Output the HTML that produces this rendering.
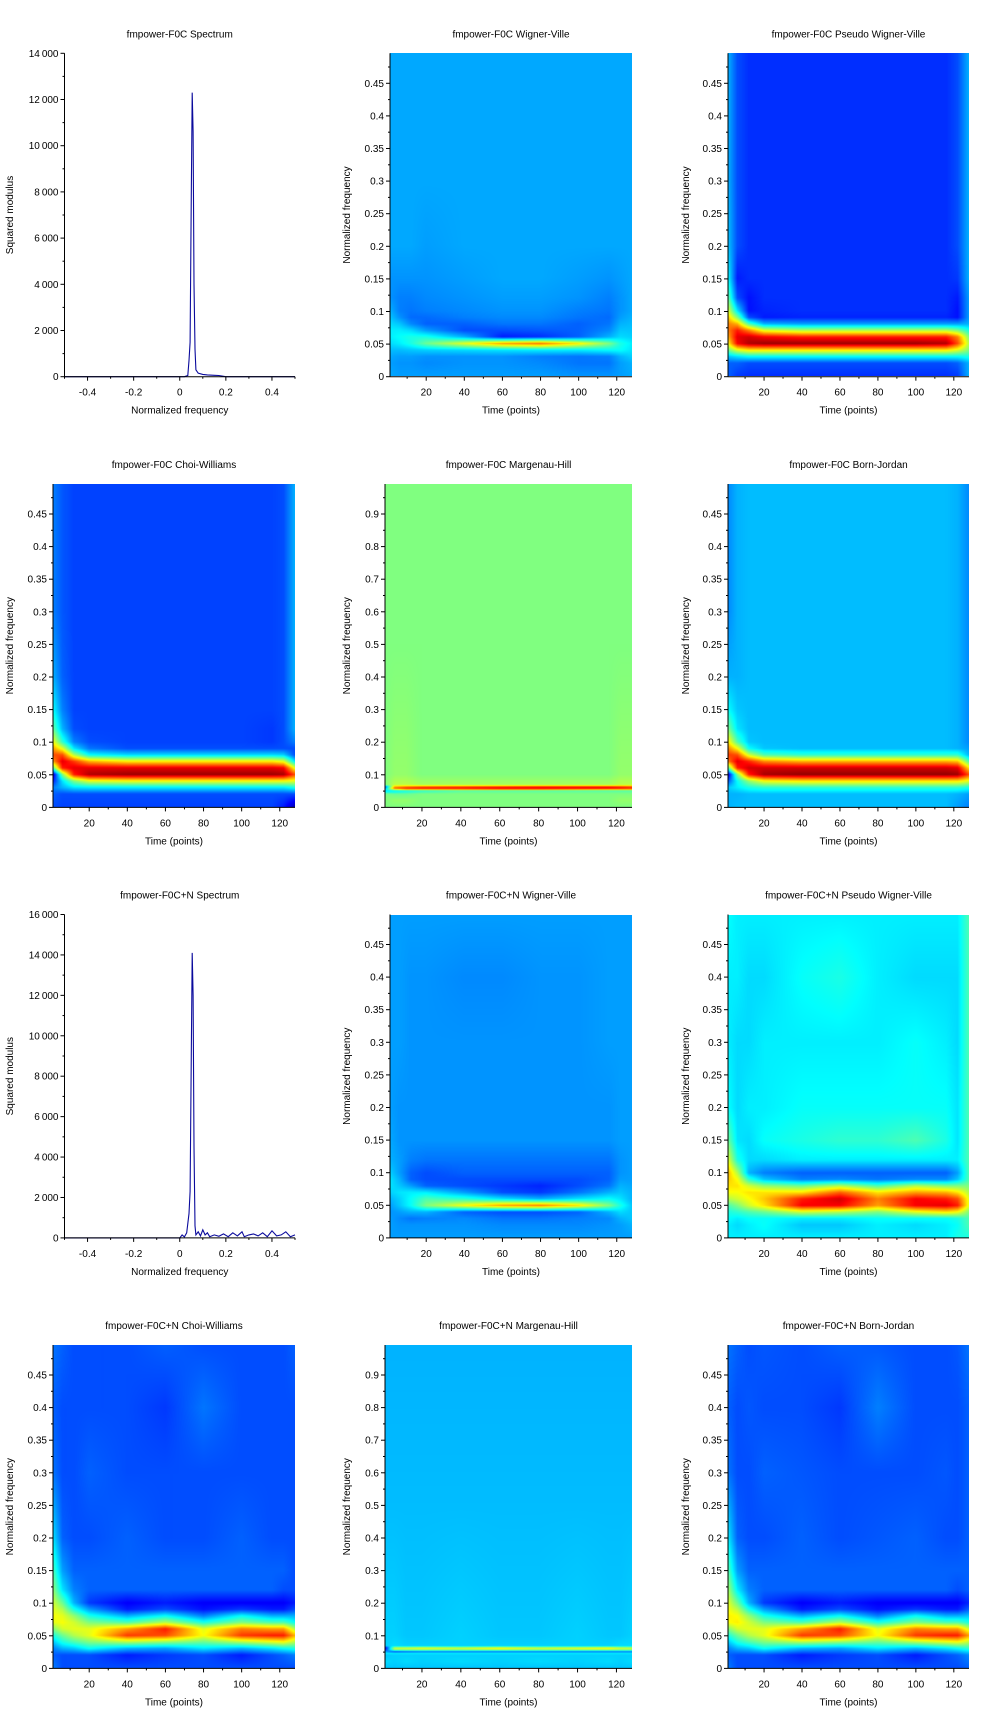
<!DOCTYPE html>
<html><head><meta charset="utf-8">
<style>
html,body{margin:0;padding:0;background:#fff;}
#wrap{position:relative;width:1000px;height:1722px;overflow:hidden;background:#fff;}
canvas{position:absolute;}
svg{position:absolute;left:0;top:0;}
text{font-family:"Liberation Sans",sans-serif;fill:#000;}
</style></head>
<body>
<div id="wrap">
<svg id="svg" width="1000" height="1722"></svg>
</div>
<script>
// ---------- data ----------
const specFreqA=[-0.5,0.02,0.035,0.04,0.045,0.05,0.054,0.058,0.062,0.066,0.07,0.08,0.1,0.12,0.15,0.17,0.2,0.5];
const specValA=[0,0,50,700,1500,7900,12300,10600,4000,1200,300,150,100,80,60,50,0,0];
const specFreqB=[-0.5,0.0,0.01,0.02,0.03,0.04,0.045,0.05,0.054,0.058,0.062,0.066,0.07,0.08,0.09,0.1,0.11,0.12,0.13,0.15,0.17,0.19,0.21,0.23,0.25,0.27,0.28,0.3,0.32,0.34,0.36,0.38,0.4,0.42,0.44,0.46,0.48,0.5];
const specValB=[0,0,150,50,250,1200,2300,9100,14100,12000,4500,600,150,300,100,400,150,250,60,150,80,200,60,250,100,300,60,150,200,100,250,60,350,100,150,300,60,150];
const specTicksA=[0,2000,4000,6000,8000,10000,12000,14000];
const specTicksB=[0,2000,4000,6000,8000,10000,12000,14000,16000];
const freqTicks=[-0.4,-0.2,0,0.2,0.4];
const timeTicks=[20,40,60,80,100,120];
const nfTicks=[0,0.05,0.1,0.15,0.2,0.25,0.3,0.35,0.4,0.45];
const mhTicks=[0,0.1,0.2,0.3,0.4,0.5,0.6,0.7,0.8,0.9];
const gridT=[1,6,12,20,40,60,80,100,116,122,128];
const gridF=[0.5,0.4,0.3,0.2,0.15,0.12,0.1,0.09,0.08,0.07,0.06,0.05,0.04,0.03,0.02,0];
const gridFmh=[0.992,0.5,0.1,0.068,0.062,0.058,0.054,0.05,0.045,0.04,0.02,0];
const wv1=[
[.29,.29,.29,.29,.29,.29,.29,.29,.29,.29,.29],
[.29,.29,.29,.29,.29,.29,.29,.29,.29,.29,.29],
[.29,.29,.29,.29,.29,.29,.29,.29,.29,.29,.29],
[.29,.29,.29,.28,.29,.29,.29,.29,.29,.29,.29],
[.27,.27,.27,.27,.28,.29,.29,.28,.27,.28,.29],
[.27,.25,.25,.26,.27,.28,.28,.27,.25,.27,.29],
[.30,.25,.24,.25,.26,.27,.27,.25,.24,.27,.29],
[.32,.27,.23,.23,.25,.26,.26,.24,.23,.28,.30],
[.34,.32,.26,.22,.22,.24,.24,.22,.24,.30,.31],
[.36,.36,.34,.28,.20,.20,.21,.22,.26,.32,.32],
[.36,.38,.40,.40,.30,.15,.17,.22,.30,.34,.33],
[.34,.36,.40,.48,.60,.72,.76,.64,.50,.40,.36],
[.31,.31,.32,.33,.34,.35,.36,.36,.38,.38,.35],
[.29,.28,.28,.27,.27,.27,.25,.24,.25,.30,.33],
[.28,.27,.27,.26,.27,.27,.26,.24,.24,.28,.30],
[.29,.28,.28,.28,.28,.28,.28,.27,.27,.28,.29]];
const pwv1=[
[.30,.20,.17,.17,.17,.17,.17,.17,.17,.20,.30],
[.30,.20,.17,.17,.17,.17,.17,.17,.17,.20,.30],
[.30,.20,.17,.17,.17,.17,.17,.17,.17,.20,.30],
[.32,.20,.17,.17,.17,.17,.17,.17,.17,.20,.30],
[.38,.15,.17,.17,.17,.17,.17,.17,.17,.18,.30],
[.48,.20,.14,.17,.17,.17,.17,.17,.17,.15,.28],
[.60,.35,.14,.16,.17,.17,.17,.17,.17,.14,.28],
[.68,.50,.20,.15,.16,.16,.16,.16,.16,.14,.28],
[.75,.70,.45,.30,.28,.28,.28,.28,.28,.28,.30],
[.75,.85,.75,.60,.55,.55,.55,.55,.55,.50,.40],
[.70,.90,.92,.88,.85,.85,.85,.85,.85,.75,.50],
[.62,.88,.95,.97,.97,.97,.97,.97,.95,.80,.55],
[.48,.60,.65,.65,.65,.65,.65,.65,.65,.60,.50],
[.32,.35,.38,.38,.38,.38,.38,.38,.38,.38,.40],
[.22,.22,.20,.20,.20,.20,.20,.20,.20,.22,.30],
[.22,.18,.17,.17,.17,.17,.17,.17,.17,.18,.30]];
const cw1=[
[.25,.21,.19,.19,.19,.19,.19,.19,.19,.20,.30],
[.25,.21,.19,.19,.19,.19,.19,.19,.19,.20,.30],
[.25,.21,.19,.19,.19,.19,.19,.19,.19,.20,.30],
[.30,.22,.19,.19,.19,.19,.19,.19,.19,.20,.30],
[.38,.25,.19,.19,.19,.19,.19,.19,.19,.20,.30],
[.48,.30,.20,.19,.19,.19,.19,.19,.18,.20,.30],
[.62,.42,.25,.20,.19,.19,.19,.19,.18,.20,.25],
[.72,.60,.35,.24,.20,.20,.20,.20,.20,.20,.20],
[.80,.80,.55,.38,.34,.34,.34,.34,.34,.33,.20],
[.72,.90,.82,.70,.64,.64,.64,.64,.64,.60,.35],
[.45,.85,.90,.90,.90,.90,.90,.90,.90,.88,.60],
[.08,.50,.85,.95,.97,.97,.97,.97,.97,.96,.80],
[.15,.35,.50,.60,.62,.62,.62,.62,.62,.62,.60],
[.25,.30,.35,.36,.36,.36,.36,.36,.36,.36,.40],
[.22,.20,.20,.20,.20,.20,.20,.20,.20,.20,.20],
[.20,.19,.19,.19,.19,.19,.19,.19,.19,.15,.05]];
const bj1=[
[.26,.30,.31,.31,.31,.31,.31,.31,.31,.30,.26],
[.26,.30,.31,.31,.31,.31,.31,.31,.31,.30,.26],
[.26,.30,.31,.31,.31,.31,.31,.31,.31,.30,.26],
[.30,.30,.31,.31,.31,.31,.31,.31,.31,.30,.26],
[.38,.32,.31,.31,.31,.31,.31,.31,.31,.30,.26],
[.50,.35,.31,.31,.31,.31,.31,.31,.31,.30,.26],
[.65,.45,.32,.31,.31,.31,.31,.31,.31,.30,.26],
[.75,.62,.38,.32,.31,.31,.31,.31,.31,.30,.28],
[.82,.80,.58,.45,.42,.42,.42,.42,.42,.42,.30],
[.75,.90,.84,.74,.70,.70,.70,.70,.70,.68,.45],
[.45,.85,.92,.92,.92,.92,.92,.92,.92,.90,.65],
[.08,.50,.85,.96,.98,.98,.98,.98,.98,.97,.80],
[.20,.38,.52,.62,.65,.65,.65,.65,.65,.65,.60],
[.32,.36,.40,.42,.42,.42,.42,.42,.42,.42,.40],
[.30,.30,.31,.31,.31,.31,.31,.31,.31,.30,.28],
[.30,.31,.31,.31,.31,.31,.31,.31,.31,.28,.25]];
const mh1=[
[.50,.50,.50,.50,.50,.50,.50,.50,.50,.50,.50],
[.50,.50,.50,.50,.50,.50,.50,.50,.50,.50,.50],
[.50,.52,.52,.50,.50,.50,.50,.50,.50,.52,.52],
[.50,.56,.56,.54,.54,.54,.54,.54,.54,.56,.56],
[.20,.70,.75,.78,.80,.82,.84,.84,.84,.82,.80],
[.25,.80,.85,.88,.88,.90,.90,.90,.90,.88,.85],
[.35,.60,.70,.70,.72,.75,.75,.72,.70,.70,.70],
[.35,.38,.40,.42,.45,.45,.45,.45,.45,.45,.45],
[.40,.40,.42,.45,.48,.48,.48,.48,.48,.48,.48],
[.50,.48,.48,.50,.50,.50,.50,.50,.50,.50,.50],
[.50,.52,.52,.50,.50,.50,.50,.50,.50,.52,.52],
[.50,.50,.50,.50,.50,.50,.50,.50,.50,.50,.50]];
const wv2=[
[.28,.28,.28,.28,.28,.28,.28,.28,.28,.28,.28],
[.28,.28,.27,.27,.26,.26,.27,.27,.28,.28,.28],
[.28,.28,.27,.27,.27,.27,.27,.27,.28,.28,.28],
[.28,.27,.27,.27,.27,.27,.27,.27,.27,.28,.28],
[.29,.27,.27,.27,.27,.27,.27,.27,.27,.28,.28],
[.30,.28,.25,.24,.24,.24,.24,.24,.24,.27,.28],
[.33,.28,.22,.20,.22,.22,.22,.22,.22,.27,.28],
[.35,.30,.22,.20,.20,.20,.20,.20,.22,.28,.28],
[.35,.32,.28,.22,.20,.18,.16,.20,.24,.30,.29],
[.33,.35,.36,.36,.28,.20,.18,.24,.30,.32,.30],
[.30,.33,.38,.45,.42,.35,.30,.35,.38,.35,.30],
[.28,.32,.38,.50,.62,.72,.75,.65,.50,.40,.32],
[.27,.28,.30,.30,.22,.20,.20,.22,.30,.34,.32],
[.28,.26,.24,.25,.26,.24,.24,.25,.26,.30,.32],
[.28,.27,.27,.27,.27,.26,.26,.26,.27,.28,.30],
[.28,.28,.28,.28,.28,.28,.28,.28,.28,.28,.28]];
const pwv2=[
[.38,.36,.36,.36,.36,.36,.36,.36,.36,.36,.45],
[.36,.36,.34,.34,.38,.40,.36,.34,.34,.34,.45],
[.36,.34,.34,.36,.36,.36,.36,.38,.36,.34,.45],
[.38,.34,.36,.36,.38,.38,.38,.38,.38,.35,.45],
[.48,.35,.34,.38,.40,.42,.42,.45,.40,.35,.45],
[.60,.40,.34,.34,.36,.36,.36,.36,.36,.36,.45],
[.70,.55,.30,.25,.22,.22,.22,.22,.22,.28,.45],
[.68,.62,.42,.32,.25,.26,.24,.26,.26,.32,.45],
[.65,.65,.58,.52,.48,.55,.45,.55,.50,.50,.50],
[.62,.62,.65,.65,.65,.78,.65,.72,.70,.65,.55],
[.55,.58,.62,.68,.85,.92,.75,.88,.85,.80,.60],
[.45,.50,.58,.65,.88,.88,.72,.88,.90,.85,.60],
[.40,.42,.45,.48,.58,.55,.50,.60,.65,.62,.50],
[.38,.36,.38,.38,.36,.36,.38,.38,.38,.40,.45],
[.36,.34,.36,.38,.32,.32,.36,.34,.36,.38,.45],
[.36,.36,.36,.36,.36,.36,.36,.36,.36,.40,.40]];
const cw2=[
[.24,.22,.20,.20,.20,.22,.20,.20,.20,.20,.22],
[.22,.20,.20,.20,.20,.18,.24,.20,.20,.20,.20],
[.24,.20,.20,.22,.20,.20,.20,.20,.20,.20,.20],
[.35,.22,.20,.20,.22,.20,.20,.22,.20,.20,.20],
[.45,.28,.22,.22,.22,.22,.22,.22,.22,.22,.20],
[.52,.35,.25,.22,.22,.22,.22,.22,.22,.20,.20],
[.58,.48,.30,.18,.12,.15,.12,.12,.12,.12,.15],
[.60,.55,.40,.28,.15,.20,.14,.18,.15,.15,.20],
[.62,.60,.52,.40,.30,.38,.25,.38,.30,.30,.30],
[.60,.62,.58,.50,.45,.55,.40,.50,.45,.45,.38],
[.50,.58,.60,.60,.72,.85,.60,.75,.72,.72,.55],
[.40,.48,.55,.60,.82,.80,.62,.82,.85,.85,.70],
[.32,.40,.45,.50,.55,.52,.48,.55,.60,.62,.55],
[.25,.30,.32,.38,.30,.28,.35,.30,.35,.38,.40],
[.22,.20,.20,.20,.15,.18,.20,.15,.20,.22,.25],
[.25,.20,.20,.20,.20,.20,.20,.20,.20,.20,.20]];
const bj2=[
[.24,.22,.20,.21,.20,.22,.21,.20,.20,.21,.24],
[.22,.20,.21,.20,.20,.18,.25,.20,.20,.20,.22],
[.24,.20,.20,.22,.21,.20,.20,.20,.21,.20,.22],
[.36,.22,.20,.20,.22,.20,.21,.22,.20,.20,.22],
[.46,.28,.22,.22,.22,.22,.22,.22,.22,.22,.22],
[.54,.36,.25,.22,.22,.22,.22,.22,.22,.20,.22],
[.60,.48,.30,.18,.12,.15,.12,.12,.12,.12,.16],
[.62,.56,.40,.28,.15,.20,.14,.18,.15,.15,.22],
[.64,.62,.52,.40,.30,.38,.25,.38,.30,.30,.32],
[.62,.64,.58,.50,.45,.55,.40,.50,.45,.45,.40],
[.50,.58,.60,.60,.72,.85,.60,.75,.72,.72,.58],
[.40,.48,.55,.60,.82,.80,.62,.82,.85,.85,.72],
[.32,.40,.45,.50,.55,.52,.48,.55,.60,.62,.56],
[.25,.30,.32,.38,.30,.28,.35,.30,.35,.38,.42],
[.22,.20,.20,.20,.15,.18,.20,.15,.20,.22,.26],
[.25,.20,.20,.20,.20,.20,.20,.20,.20,.20,.22]];
const mh2=[
[.30,.30,.30,.30,.30,.30,.30,.30,.30,.30,.30],
[.31,.31,.31,.31,.31,.31,.31,.31,.31,.31,.31],
[.33,.33,.32,.32,.33,.32,.32,.33,.32,.32,.33],
[.33,.34,.33,.33,.33,.33,.33,.33,.33,.34,.34],
[.10,.55,.56,.58,.56,.60,.56,.58,.60,.56,.55],
[.12,.58,.58,.60,.58,.62,.58,.60,.62,.58,.58],
[.20,.40,.42,.42,.42,.42,.42,.42,.42,.42,.42],
[.30,.20,.22,.24,.24,.24,.24,.24,.24,.24,.24],
[.36,.36,.36,.36,.36,.36,.36,.36,.36,.36,.36],
[.32,.33,.33,.33,.33,.33,.33,.33,.33,.33,.33],
[.34,.33,.34,.33,.34,.33,.34,.33,.34,.33,.34],
[.32,.32,.32,.32,.32,.32,.32,.32,.32,.32,.32]];

// ---------- layout ----------
const rowsY=[53.3,484,914.5,1345];
const H=323.4;
const svg=document.getElementById('svg');
const wrap=document.getElementById('wrap');
const NS='http://www.w3.org/2000/svg';
function mk(tag,attrs,parent){const e=document.createElementNS(NS,tag);for(const k in attrs)e.setAttribute(k,attrs[k]);(parent||svg).appendChild(e);return e;}
function txt(s,x,y,anchor,size,parent,rot){const t=mk('text',{x:x,y:y,'text-anchor':anchor,'font-size':size},parent);if(rot)t.setAttribute('transform','rotate(-90 '+x+' '+y+')');t.textContent=s;return t;}
function fmtK(v){if(v>=1000){const s=String(v);return s.slice(0,s.length-3)+'\u2009'+s.slice(-3);}return String(v);}
function jet(v){const c=x=>Math.max(0,Math.min(1,x));return [c(1.5-Math.abs(4*v-3))*255,c(1.5-Math.abs(4*v-2))*255,c(1.5-Math.abs(4*v-1))*255];}
function interp(arr,x){ // arr ascending or descending
  const n=arr.length;const asc=arr[n-1]>arr[0];
  for(let i=0;i<n-1;i++){const a=arr[i],b=arr[i+1];if((asc&&x>=a&&x<=b)||(!asc&&x<=a&&x>=b)){return [i,(x-a)/(b-a)];}}
  return asc?(x<arr[0]?[0,0]:[n-2,1]):(x>arr[0]?[0,0]:[n-2,1]);
}
function title(s,x0,x1,y0,g){const t=txt(s,(x0+x1)/2,y0-16,'middle',10,g);}
function axesLines(g,x0,x1,y0,y1){
  const a=mk('line',{x1:x0,y1:y0,x2:x0,y2:y1,stroke:'#000','stroke-width':1},g);
  
  const b=mk('line',{x1:x0,y1:y1,x2:x1,y2:y1,stroke:'#000','stroke-width':1},g);
  
}
function yTicks(g,x0,y0,y1,vmax,ticks,labelFn){
  const ys=v=>y1-v/vmax*(y1-y0);
  const step=ticks[1]-ticks[0];
  for(let i=0;i<ticks.length;i++){const y=ys(ticks[i]);
    mk('line',{x1:x0-4,y1:y,x2:x0,y2:y,stroke:'#000'},g);
    const l=txt(labelFn(ticks[i]),x0-6,y+3.5,'end',10,g);
    
    const ym=ys(ticks[i]+step/2);if(ym>=y0-0.5) mk('line',{x1:x0-2,y1:ym,x2:x0,y2:ym,stroke:'#000'},g);
  }
}
function heatmap(name,col,row,x0,x1,fmax,grid,fgrid,ticks,ttl){
  const y0=rowsY[row],y1=y0+H;
  const g=mk('g',{});
  
  
  const cv=document.createElement('canvas');
  const W=Math.round(x1-x0),HH=Math.round(H);
  cv.width=W;cv.height=HH;cv.style.left=Math.round(x0)+'px';cv.style.top=Math.round(y0)+'px';
  
  
  wrap.insertBefore(cv,svg);
  const ctx=cv.getContext('2d');const img=ctx.createImageData(W,HH);
  for(let py=0;py<HH;py++){
    const f=fmax*(1-(py+0.5)/HH);const [fi,fu]=interp(fgrid,f);
    for(let px=0;px<W;px++){
      const t=1+127*(px+0.5)/W;const [ti,tu]=interp(gridT,t);
      const v=(grid[fi][ti]*(1-tu)+grid[fi][ti+1]*tu)*(1-fu)+(grid[fi+1][ti]*(1-tu)+grid[fi+1][ti+1]*tu)*fu;
      const c=jet(v);const k=(py*W+px)*4;img.data[k]=c[0];img.data[k+1]=c[1];img.data[k+2]=c[2];img.data[k+3]=255;
    }}
  ctx.putImageData(img,0,0);
  axesLines(g,x0,x1,y0,y1);
  yTicks(g,x0,y0,y1,fmax,ticks,v=>String(+v.toFixed(2)));
  const xs=t=>x0+(t-1)/127*(x1-x0);
  for(let t=10;t<=120;t+=10){const x=xs(t);mk('line',{x1:x,y1:y1,x2:x,y2:y1+(t%20===0?4:2),stroke:'#000'},g);}
  for(const t of timeTicks){const l=txt(String(t),xs(t),y1+19,'middle',10,g);}
  const xl=txt('Time (points)',(x0+x1)/2,y1+37,'middle',10,g);
  
  const lx=[9,346,685][col];
  const yl=txt('Normalized frequency',lx+4,(y0+y1)/2,'middle',10,g,true);
  
  title(ttl,x0,x1,y0,g);
}
function spectrum(name,row,fr,vals,ticks,ttl){
  const x0=64.5,x1=295,y0=rowsY[row],y1=y0+H;const vmax=ticks[ticks.length-1];
  const g=mk('g',{});
  
  
  const xs=f=>x0+(f+0.5)*(x1-x0);const ys=v=>y1-v/vmax*(y1-y0);
  let d='';for(let i=0;i<fr.length;i++)d+=(i?'L':'M')+xs(fr[i]).toFixed(1)+' '+ys(vals[i]).toFixed(1);
  const p=mk('path',{d:d,fill:'none',stroke:'#0a0a9c','stroke-width':1.1},g);
  
  axesLines(g,x0,x1,y0,y1);
  yTicks(g,x0,y0,y1,vmax,ticks,fmtK);
  for(let f=-0.5;f<=0.5001;f+=0.1){const x=xs(f);mk('line',{x1:x,y1:y1,x2:x,y2:y1+(Math.abs(Math.round(f*10))%2===0?4:2),stroke:'#000'},g);}
  for(const f of freqTicks){const l=txt(String(f),xs(f),y1+19,'middle',10,g);}
  const xl=txt('Normalized frequency',(x0+x1)/2,y1+37,'middle',10,g);
  
  const yl=txt('Squared modulus',13,(y0+y1)/2,'middle',10,g,true);
  
  title(ttl,x0,x1,y0,g);
}
const F1=0.496,F2=0.992;
spectrum('spectrum-f0c',0,specFreqA,specValA,specTicksA,'fmpower-F0C Spectrum');
heatmap('wigner-ville-f0c',1,0,390,632,F1,wv1,gridF,nfTicks,'fmpower-F0C Wigner-Ville');
heatmap('pseudo-wigner-ville-f0c',2,0,728,969,F1,pwv1,gridF,nfTicks,'fmpower-F0C Pseudo Wigner-Ville');
heatmap('choi-williams-f0c',0,1,53,295,F1,cw1,gridF,nfTicks,'fmpower-F0C Choi-Williams');
heatmap('margenau-hill-f0c',1,1,385,632,F2,mh1,gridFmh,mhTicks,'fmpower-F0C Margenau-Hill');
heatmap('born-jordan-f0c',2,1,728,969,F1,bj1,gridF,nfTicks,'fmpower-F0C Born-Jordan');
spectrum('spectrum-f0c-n',2,specFreqB,specValB,specTicksB,'fmpower-F0C+N Spectrum');
heatmap('wigner-ville-f0c-n',1,2,390,632,F1,wv2,gridF,nfTicks,'fmpower-F0C+N Wigner-Ville');
heatmap('pseudo-wigner-ville-f0c-n',2,2,728,969,F1,pwv2,gridF,nfTicks,'fmpower-F0C+N Pseudo Wigner-Ville');
heatmap('choi-williams-f0c-n',0,3,53,295,F1,cw2,gridF,nfTicks,'fmpower-F0C+N Choi-Williams');
heatmap('margenau-hill-f0c-n',1,3,385,632,F2,mh2,gridFmh,mhTicks,'fmpower-F0C+N Margenau-Hill');
heatmap('born-jordan-f0c-n',2,3,728,969,F1,bj2,gridF,nfTicks,'fmpower-F0C+N Born-Jordan');
</script>
</body></html>
